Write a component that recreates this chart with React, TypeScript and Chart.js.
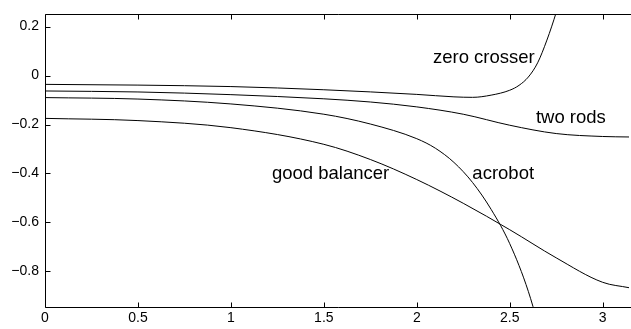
import React, { useEffect, useRef } from "react";
import { Chart, registerables } from "chart.js";

Chart.register(...registerables);

// Tick values
const X_TICKS = [0, 0.5, 1, 1.5, 2, 2.5, 3];
const Y_TICKS = [-0.8, -0.6, -0.4, -0.2, 0, 0.2];

// Series: zero crosser
const ZERO_X = [0, 0.5, 1.0, 1.5, 2.0, 2.2, 2.3, 2.4, 2.5, 2.55, 2.6, 2.65, 2.7, 2.75, 2.8];
const ZERO_Y = [-0.036, -0.039, -0.045, -0.058, -0.077, -0.087, -0.089, -0.08, -0.06, -0.04, -0.006, 0.052, 0.145, 0.258, 0.39];

// Series: two rods
const RODS_X = [0, 0.5, 1.0, 1.5, 1.75, 2.0, 2.25, 2.5, 2.75, 3.0, 3.1416];
const RODS_Y = [-0.063, -0.067, -0.078, -0.095, -0.108, -0.128, -0.158, -0.203, -0.237, -0.249, -0.251];

// Series: acrobot
const ACRO_X = [0, 0.5, 1.0, 1.5, 1.75, 2.0, 2.1, 2.2, 2.3, 2.4, 2.5, 2.6, 2.7];
const ACRO_Y = [-0.09, -0.096, -0.116, -0.158, -0.198, -0.258, -0.297, -0.355, -0.437, -0.547, -0.687, -0.882, -1.15];

// Series: good balancer
const GOOD_X = [0, 0.5, 1.0, 1.5, 1.75, 2.0, 2.25, 2.5, 2.75, 3.0, 3.1416];
const GOOD_Y = [-0.175, -0.184, -0.213, -0.281, -0.343, -0.425, -0.522, -0.63, -0.745, -0.845, -0.867];

// Curve labels (text and anchor in data coordinates)
const LABEL_TEXT = ["zero crosser", "two rods", "acrobot", "good balancer"];
const LABEL_X = [2.087, 2.641, 2.299, 1.221];
const LABEL_Y = [0.052, -0.195, -0.421, -0.423];

const X_MIN = 0;
const X_MAX = Math.PI;
const Y_MIN = -0.95;
const Y_MAX = 0.25;

const FONT = "'Liberation Sans', Arial, Helvetica, sans-serif";

function zip(xs: number[], ys: number[]) {
  return xs.map((x, i) => ({ x, y: ys[i] }));
}

function fmt(v: number): string {
  const r = Math.round(v * 10) / 10;
  const s = String(Math.abs(r));
  return r < 0 ? "\u2212" + s : s;
}

const framePlugin = {
  id: "frameAndLabels",
  afterDatasetsDraw(chart: any) {
    const ctx = chart.ctx as CanvasRenderingContext2D;
    const { left, right, top, bottom } = chart.chartArea;
    const xs = chart.scales.x;
    const ys = chart.scales.y;
    ctx.save();
    ctx.strokeStyle = "#000";
    ctx.lineWidth = 1;
    ctx.beginPath();
    const L = Math.round(left) + 0.5;
    const T = Math.round(top) + 0.5;
    const B = Math.round(bottom) - 0.5;
    ctx.moveTo(right + 2, T);
    ctx.lineTo(L, T);
    ctx.lineTo(L, B);
    ctx.lineTo(right + 2, B);
    const tl = 5;
    X_TICKS.forEach((v) => {
      const px = Math.round(xs.getPixelForValue(v)) + 0.5;
      ctx.moveTo(px, T);
      ctx.lineTo(px, T + tl);
      ctx.moveTo(px, B);
      ctx.lineTo(px, B - tl);
    });
    Y_TICKS.forEach((v) => {
      const py = Math.round(ys.getPixelForValue(v)) + 0.5;
      ctx.moveTo(L, py);
      ctx.lineTo(L + tl, py);
    });
    ctx.stroke();

    ctx.fillStyle = "#000";
    ctx.font = `18.5px ${FONT}`;
    ctx.textAlign = "left";
    ctx.textBaseline = "alphabetic";
    LABEL_TEXT.forEach((t, i) => {
      ctx.fillText(t, xs.getPixelForValue(LABEL_X[i]), ys.getPixelForValue(LABEL_Y[i]));
    });
    ctx.restore();
  },
};

export default function App() {
  const ref = useRef<HTMLCanvasElement>(null);
  useEffect(() => {
    if (!ref.current) return;
    const line = (xs: number[], ys: number[]) => ({
      data: zip(xs, ys),
      borderColor: "#000",
      borderWidth: 1,
      pointRadius: 0,
      fill: false,
      cubicInterpolationMode: "monotone" as const,
    });
    const chart = new Chart(ref.current, {
      type: "line",
      data: {
        datasets: [
          line(ZERO_X, ZERO_Y),
          line(RODS_X, RODS_Y),
          line(ACRO_X, ACRO_Y),
          line(GOOD_X, GOOD_Y),
        ],
      },
      options: {
        animation: false,
        responsive: false,
        devicePixelRatio: 1,
        layout: { padding: { top: 10, right: 2, left: 0, bottom: 0 } },
        plugins: { legend: { display: false }, tooltip: { enabled: false } },
        scales: {
          x: {
            type: "linear",
            min: X_MIN,
            max: X_MAX,
            grid: { display: false, drawTicks: false },
            border: { display: false },
            afterBuildTicks: (s: any) => {
              s.ticks = X_TICKS.map((value) => ({ value }));
            },
            afterFit: (s: any) => {
              s.height = 21;
            },
            ticks: {
              autoSkip: false,
              maxRotation: 0,
              padding: 2,
              color: "#000",
              font: { family: FONT, size: 14 },
              callback: (v: any) => fmt(Number(v)),
            },
          },
          y: {
            type: "linear",
            min: Y_MIN,
            max: Y_MAX,
            grid: { display: false, drawTicks: false },
            border: { display: false },
            afterBuildTicks: (s: any) => {
              s.ticks = Y_TICKS.map((value) => ({ value }));
            },
            afterFit: (s: any) => {
              s.width = 45;
            },
            ticks: {
              autoSkip: false,
              padding: 6,
              color: "#000",
              font: { family: FONT, size: 14 },
              callback: (v: any) => fmt(Number(v)),
            },
          },
        },
      },
      plugins: [framePlugin],
    });
    return () => chart.destroy();
  }, []);
  return (
    <div style={{ position: "fixed", left: 0, top: 0, width: 631, height: 329, background: "#fff" }}>
      <canvas ref={ref} width={631} height={329} style={{ display: "block" }} />
    </div>
  );
}
